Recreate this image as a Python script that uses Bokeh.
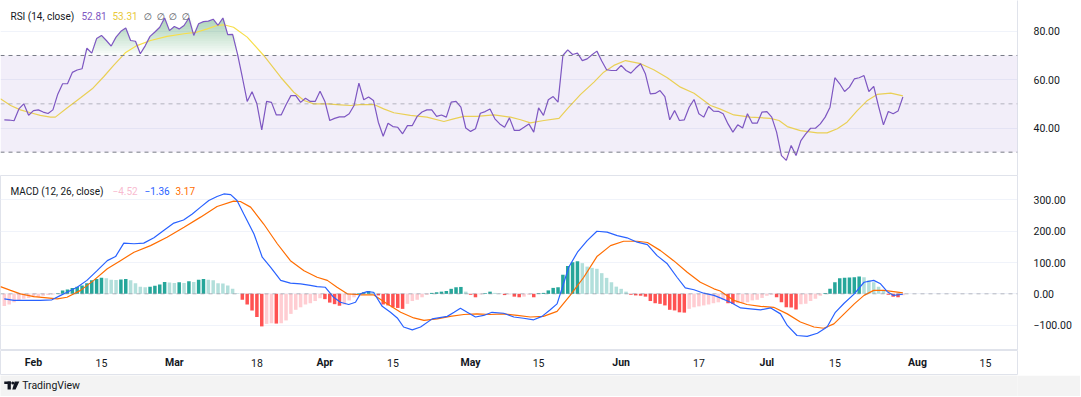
import numpy as np
from bokeh.plotting import figure
from bokeh.layouts import column
from bokeh.models import Range1d, FixedTicker, BoxAnnotation, Span, ColumnDataSource
from bokeh.core.properties import value
from bokeh.embed import file_html
from bokeh.resources import INLINE

FONT = "Roboto"
TXT = "#131722"

# ---------------- data (x = days counted from 1 Feb 2024) ----------------
rsi_days = list(range(-6, 180))
rsi_vals = [
    43.4, 43.3, 43.0, 47.9, 50.0, 45.3, 47.2, 47.5, 46.6, 46.0,
    47.5, 54.0, 58.3, 58.3, 63.0, 64.0, 64.5, 73.0, 71.0, 77.0,
    78.3, 76.2, 73.9, 77.6, 80.0, 81.4, 76.2, 75.9, 70.7, 74.0,
    77.9, 79.7, 81.7, 85.5, 80.3, 82.0, 81.0, 82.4, 85.5, 78.3,
    83.1, 84.0, 84.2, 85.0, 82.5, 85.5, 78.6, 78.7, 70.7, 61.0,
    51.0, 55.0, 50.0, 39.2, 51.0, 50.6, 45.4, 45.4, 49.6, 53.4,
    53.4, 50.6, 52.3, 51.0, 51.0, 55.2, 51.0, 43.1, 44.0, 44.6,
    44.6, 45.9, 49.3, 58.6,
    51.7, 52.8, 51.4, 42.4, 36.6, 42.0, 40.6, 40.3, 37.6, 41.0,
    41.0, 44.8, 46.6, 47.5, 47.5, 44.8, 45.4, 44.5, 50.7, 51.0,
    48.6, 40.0, 38.6, 39.7, 46.1, 46.8, 47.9, 43.8, 41.7, 40.3,
    44.2, 39.0, 39.0, 40.3, 41.7, 38.3, 48.3, 45.2, 51.7, 53.0,
    50.7, 70.0, 72.3, 70.4, 71.0, 67.9, 68.6, 70.3, 71.8, 67.7,
    64.1, 63.8, 63.8, 65.9, 63.8, 62.7, 64.8, 66.6, 62.3, 54.1,
    54.3, 55.5, 53.0, 43.4, 47.2, 43.1, 43.4, 48.6, 51.8, 45.9,
    44.5, 48.9, 47.0, 46.9,
    45.9, 41.7, 38.3, 41.3, 40.0, 45.9, 42.0, 42.0, 46.6, 46.8,
    44.5, 38.3, 28.6, 26.6, 32.8, 28.6, 34.8, 37.6, 39.9, 39.9,
    41.7, 44.5, 48.6, 60.8, 58.3, 55.1, 56.9, 60.3, 60.8, 61.7,
    55.1, 57.2, 48.9, 41.3, 46.8, 45.9, 47.0, 52.81,
]

rsi_ma_days = [
    -6.8, -4.7, -2.7, -0.6, 1.4, 3.5, 4.5, 6.9, 9.7, 12.1,
    14.5, 16.5, 18.9, 21.3, 24.1, 27.5, 31.0, 33.7, 35.8, 37.8,
    39.2, 41.2, 44.0, 47.4, 50.9, 53.6, 55.7, 57.7, 60.5, 63.2,
    65.3, 67.2, 70.1, 72.1, 74.2, 77.6, 81.0, 84.5, 86.5, 88.6,
    91.3, 94.8, 98.2, 100.3, 102.3, 105.1, 108.2, 109.9, 112.6, 115.4,
    117.4, 119.5, 121.9, 125.0, 127.7, 130.5, 133.2, 136.0, 139.4, 141.3,
    144.2, 147.6, 151.7, 153.5, 155.2, 157.9, 161.4, 163.4, 165.5, 167.5,
    169.6, 171.7, 173.7, 176.5, 179.0,
]
rsi_ma_vals = [
    52.1, 49.3, 47.5, 46.3, 45.2, 44.5, 44.5, 48.3, 52.5, 56.2,
    61.3, 65.9, 71.1, 74.1, 76.2, 77.9, 79.0, 79.7, 81.0, 82.4,
    82.7, 81.7, 77.6, 70.0, 61.0, 54.8, 51.4, 50.0, 50.0, 49.6,
    49.3, 49.7, 49.7, 47.9, 46.3, 45.2, 44.5, 42.7, 43.8, 44.8,
    44.8, 45.4, 44.5, 43.4, 42.1, 43.1, 44.0, 47.9, 53.8, 59.0,
    63.1, 65.9, 67.9, 66.6, 64.1, 60.8, 56.9, 54.4, 49.3, 47.9,
    45.4, 44.5, 44.0, 43.1, 40.6, 38.9, 38.0, 38.0, 39.7, 42.4,
    47.2, 51.4, 53.9, 54.4, 53.31,
]

hist_days = list(range(-6, 180))
hist_vals = [
    -39, -34, -27, -21, -16, -13, -11, -9, -6, -4,
    -2, 2, 11, 14, 19, 23, 27, 34, 43, 47,
    51, 50, 45, 44, 46, 47, 43, 34, 23, 21,
    23, 26, 30, 38, 36, 35, 37, 35, 40, 38,
    45, 47, 45, 43, 34, 33, 27, 16, 2, -19,
    -34, -53, -74, -104, -96, -94, -95, -94, -85, -64,
    -51, -43, -34, -30, -23, -14, -17, -28, -33, -38,
    -34, -21, -11, 2,
    5, 9, 5, -5, -34, -37, -43, -45, -48, -32,
    -23, -19, -11, -3, 3, 5, 7, 9, 16, 21,
    22, 7, -3, -11, -2, 2, 7, 3, 1, -4,
    -2, -9, -11, -9, -3, -11, 2, 3, 11, 19,
    21, 61, 89, 101, 104, 98, 87, 83, 80, 66,
    51, 37, 23, 16, 7, -3, -5, -6, -9, -23,
    -30, -32, -37, -51, -53, -59, -60, -48, -43, -40,
    -37, -34, -30, -27,
    -20, -30, -32, -30, -29, -27, -21, -19, -13, -6,
    -3, -11, -27, -43, -44, -50, -33, -32, -23, -16,
    -6, 3, 16, 37, 50, 51, 52, 53, 55, 53,
    43, 37, 23, 9, -3, -9, -11, -4.52,
]

macd_days = [
    -6, -4, -1.3, 1.4, 3.8, 5.6, 6.9, 9, 11, 13.1,
    15.2, 16.9, 18.6, 20.7, 22.7, 24.8, 26.8, 28.9, 30.9, 32.7,
    34.4, 36.1, 37.8, 39.2, 40.6, 41.9, 43.3, 45.4, 47.1, 48.8,
    50.9, 52.9, 55, 57, 58.4, 60.1, 61.8, 63.2, 64.9, 66.3,
    67.3, 68.7, 70, 71.8, 73.5, 74.9, 76.2, 78, 79.7, 82.1,
    85.2, 86.6, 87.9, 89.3, 91, 92.7, 94.4, 96.8, 98.9, 100.9,
    103, 104.7, 106.4, 107.8, 108.9, 110.2, 112, 114, 116, 118.1,
    120.2, 122.2, 124.3, 126.4, 128.4, 130.5, 132.5, 134.2, 136, 138,
    140.1, 141.4, 143.5, 145.6, 147.6, 149.7, 151.8, 153.8, 155.2, 157.2,
    159.3, 161.4, 163.4, 165.1, 166.9, 169, 171, 173, 174.4, 175.8,
    177.1, 179,
]
macd_vals = [
    -16, -21, -21, -21, -19, -5, 5, 21, 43, 74,
    106, 119, 162, 160, 162, 179, 202, 226, 236, 255,
    277, 298, 311, 319, 317, 298, 255, 191, 117, 85,
    43, 34, 32, 27, 23, 21, -11, -27, -34, -27,
    0, 7, 5, -40, -59, -77, -106, -115, -106, -80,
    -72, -59, -46, -59, -74, -69, -59, -62, -74, -78,
    -83, -72, -51, -32, 21, 85, 133, 170, 200, 197,
    186, 179, 165, 157, 122, 96, 53, 19, 13, 2,
    -5, -13, -27, -45, -48, -51, -45, -64, -101, -133,
    -136, -126, -106, -59, -30, 0, 37, 43, 32, 7,
    -5, -1.36,
]

signal_days = [
    -6.8, -4.7, -2.7, 0.1, 2.8, 4.9, 6.9, 9.7, 12.4, 15.2,
    17.9, 20.7, 24.1, 27.5, 31, 34.4, 37.8, 41.2, 42.6, 44.7,
    47.4, 50.2, 52.9, 55.7, 58.4, 60.5, 62.5, 64.6, 67.3, 70,
    72.8, 75.6, 78.3, 80.4, 83.1, 85.8, 88.6, 91.3, 94, 96.8,
    99.6, 102.3, 105, 107.8, 110.5, 113.3, 116, 118.8, 121.5, 124.3,
    126.4, 129.1, 131.8, 134.6, 137.3, 140.1, 141.4, 144.2, 146.9, 149.7,
    152.4, 155.2, 157.9, 160.7, 162.7, 164.8, 166.9, 169, 171, 173,
    175.1, 177.1, 179,
]
signal_vals = [
    23, 11, 0, -9, -13, -16, -11, 11, 43, 80,
    106, 133, 154, 181, 213, 245, 279, 296, 295, 277,
    223, 160, 106, 74, 53, 43, 21, 0, -3, -3,
    -32, -59, -77, -85, -80, -72, -66, -64, -66, -64,
    -69, -74, -72, -56, -5, 53, 119, 154, 168, 168,
    164, 138, 106, 69, 37, 16, 9, -21, -34, -40,
    -43, -64, -90, -106, -110, -96, -64, -32, -5, 11,
    11, 7, 3.17,
]

tick_days = [0, 14, 29, 46, 60, 74, 90, 104, 121, 137, 151, 165, 182, 196]
tick_labels = ["Feb", "15", "Mar", "18", "Apr", "15", "May", "15",
               "Jun", "17", "Jul", "15", "Aug", "15"]
tick_styles = ["bold", "normal", "bold", "normal", "bold", "normal", "bold",
               "normal", "bold", "normal", "bold", "normal", "bold", "normal"]

rsi_ticks = [40, 60, 80]
macd_ticks = [-100, 0, 100, 200, 300]
rsi_bands = [70, 30]
rsi_mid = [50]

rsi_legend = ["RSI (14, close)", "52.81", "53.31"]
macd_legend = ["MACD (12, 26, close)", "\u22124.52", "\u22121.36", "3.17"]

# ---------------- layout ----------------
W = 1080
RB = 63            # width of the price-scale column
XR = Range1d(-6.79, 202.6)
GRID = "#f0f3fa"
BORDER = "#e0e3eb"


def base_fig(h, yr, axis=True):
    p = figure(width=W, height=h, x_range=XR, y_range=yr,
               x_axis_location=None,
               y_axis_location="right" if axis else None,
               output_backend="svg", toolbar_location=None,
               min_border_left=0, min_border_right=RB,
               min_border_top=0, min_border_bottom=0)
    p.xgrid.visible = False
    p.background_fill_color = "white"
    p.border_fill_color = "white"
    return p


def style_axis(p, ticks):
    ax = p.yaxis[0]
    ax.ticker = FixedTicker(ticks=ticks)
    ax.major_label_overrides = {t: f"{t:.2f}".replace("-", "\u2212") for t in ticks}
    ax.axis_line_color = BORDER
    ax.major_tick_line_color = None
    ax.minor_tick_line_color = None
    ax.major_label_standoff = 10
    ax.major_label_text_font = FONT
    ax.major_label_text_font_size = "10.5px"
    ax.major_label_text_color = TXT
    p.ygrid.grid_line_color = GRID


def legend_text(p, x_px, y, txt, color, font=FONT, size="10px"):
    p.text(x=[XR.start], y=[y], text=[txt], x_offset=x_px,
           text_font=value(font), text_font_size=size, text_color=color,
           text_baseline="middle", text_align="left")


# ---------------- RSI pane ----------------
rsi = base_fig(175, Range1d(20.35, 92.75))
style_axis(rsi, rsi_ticks)
rsi.outline_line_color = None

rsi.add_layout(BoxAnnotation(bottom=min(rsi_bands), top=max(rsi_bands),
                             fill_color="#7e57c2", fill_alpha=0.1, line_color=None))
for lv in rsi_bands:
    rsi.add_layout(Span(location=lv, dimension="width", line_color="#787b86",
                        line_dash="4 4", line_width=1))
for lv in rsi_mid:
    rsi.add_layout(Span(location=lv, dimension="width", line_color="#787b86",
                        line_alpha=0.5, line_dash="4 4", line_width=1))

r = np.array(rsi_vals)
for k in range(20):
    t = max(rsi_bands) + k
    rsi.varea(x=rsi_days, y1=t, y2=np.maximum(r, t), fill_color="#4caf50",
              fill_alpha=0.03)
    b = min(rsi_bands) - k
    rsi.varea(x=rsi_days, y1=np.minimum(r, b), y2=b, fill_color="#ff5252",
              fill_alpha=0.03)

rsi.line(rsi_ma_days, rsi_ma_vals, line_color="#f7de4a", line_width=1.2)
rsi.line(rsi_days, rsi_vals, line_color="#7e57c2", line_width=1.2)

legend_text(rsi, 10, 86.3, rsi_legend[0], TXT)
legend_text(rsi, 81, 86.3, rsi_legend[1], "#7e57c2")
legend_text(rsi, 112, 86.3, rsi_legend[2], "#e8c93a")
for xo in [143, 156, 168, 181]:
    legend_text(rsi, xo, 86.3, "\u2205", "#50535e", font="DejaVu Sans", size="9.5px")

# ---------------- MACD pane ----------------
macd = base_fig(175, Range1d(-181, 378))
style_axis(macd, macd_ticks)
macd.outline_line_color = BORDER

macd.add_layout(Span(location=0, dimension="width", line_color="#787b86",
                     line_alpha=0.5, line_dash="4 4", line_width=1))

h = np.array(hist_vals, dtype=float)
colors = []
for i, v in enumerate(h):
    prev = h[i - 1] if i > 0 else h[1] - (h[2] - h[1])
    if v >= 0:
        colors.append("#26a69a" if v > prev else "#b2dfdb")
    else:
        colors.append("#ffcdd2" if v > prev else "#ff5252")
macd.vbar(x=hist_days, top=hist_vals, bottom=0, width=0.72, fill_color=colors,
          line_color=None)

macd.line(signal_days, signal_vals, line_color="#ff6d00", line_width=1.2)
macd.line(macd_days, macd_vals, line_color="#2962ff", line_width=1.2)

legend_text(macd, 10, 328, macd_legend[0], TXT)
legend_text(macd, 112, 328, macd_legend[1], "#f8bbd0")
legend_text(macd, 144, 328, macd_legend[2], "#2962ff")
legend_text(macd, 175, 328, macd_legend[3], "#ff6d00")

# ---------------- time axis ----------------
tax = base_fig(25, Range1d(25, 0), axis=False)
tax.ygrid.visible = False
tax.outline_line_color = BORDER
src = ColumnDataSource(dict(x=tick_days, y=[12] * len(tick_days),
                            t=tick_labels, s=tick_styles))
tax.text(x="x", y="y", text="t", text_font_style="s", source=src,
         text_font=value(FONT), text_font_size="10.5px", text_color=TXT,
         text_align="center", text_baseline="middle")

# ---------------- footer ----------------
FH = 21
foot = figure(width=W, height=FH, x_range=Range1d(0, W), y_range=Range1d(FH, 0),
              x_axis_location=None, y_axis_location=None,
              output_backend="svg", toolbar_location=None,
              min_border_left=0, min_border_right=0,
              min_border_top=0, min_border_bottom=0)
foot.grid.visible = False
foot.outline_line_color = None
foot.background_fill_color = "#f3f3f3"
foot.border_fill_color = "#f3f3f3"
# TradingView logo (decorative)
foot.quad(left=[4], right=[11], top=[6], bottom=[8.5], fill_color=TXT, line_color=None)
foot.quad(left=[7.5], right=[11], top=[6], bottom=[14], fill_color=TXT, line_color=None)
foot.scatter(x=[13], y=[7.5], size=3, fill_color=TXT, line_color=None)
foot.patch(x=[15, 20, 16, 12.5], y=[6, 6, 14, 14], fill_color=TXT, line_color=None)
foot.text(x=[23], y=[10], text=["TradingView"], text_font=value(FONT),
          text_font_size="10.5px", text_color=TXT, text_baseline="middle",
          text_align="left")

layout = column(rsi, macd, tax, foot, spacing=0)
open("out.html", "w").write(file_html(layout, INLINE))
